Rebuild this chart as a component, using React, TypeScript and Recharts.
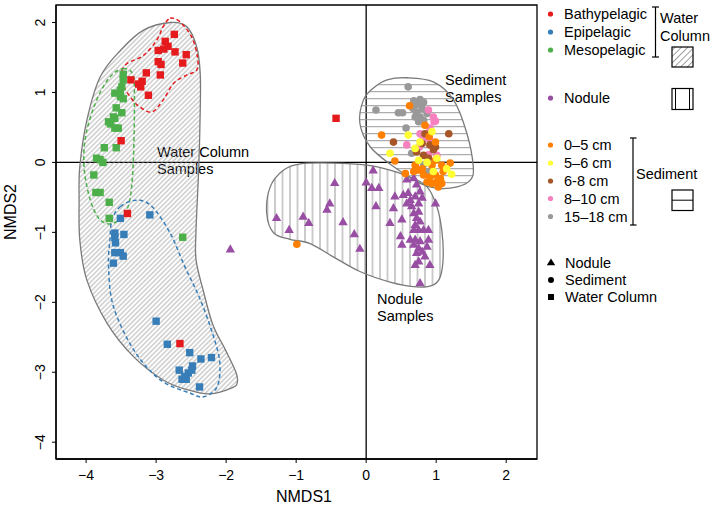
import React from 'react';
import { ScatterChart, Scatter, XAxis, YAxis, ReferenceLine, ReferenceArea, Customized } from 'recharts';

type P = { x: number; y: number };

// ---------- colours ----------
const COLORS = {
  bathy: '#E41A1C',
  epi: '#377EB8',
  meso: '#4DAF4A',
  nodule: '#984EA3',
  s05: '#FF7F00',
  s56: '#FFFF33',
  s68: '#A65628',
  s810: '#F781BF',
  s1518: '#999999',
};

// ---------- axes ----------
const X_DOMAIN: [number, number] = [-4.43, 2.44];
const Y_DOMAIN: [number, number] = [-4.24, 2.25];
const xTicks = [-4, -3, -2, -1, 0, 1, 2];
const yTicks = [-4, -3, -2, -1, 0, 1, 2];

// ---------- water column samples (squares) ----------
const bathypelagic: P[] = [
  { x: -2.74, y: 1.83 }, { x: -2.87, y: 1.73 }, { x: -2.83, y: 1.66 }, { x: -2.89, y: 1.62 },
  { x: -2.97, y: 1.6 }, { x: -2.73, y: 1.58 }, { x: -2.57, y: 1.54 }, { x: -2.62, y: 1.42 },
  { x: -2.97, y: 1.44 }, { x: -2.93, y: 1.4 }, { x: -3.14, y: 1.28 }, { x: -2.94, y: 1.25 },
  { x: -3.36, y: 1.18 }, { x: -3.2, y: 1.16 }, { x: -3.25, y: 1.12 }, { x: -3.22, y: 1.08 },
  { x: -3.11, y: 0.96 }, { x: -3.5, y: 0.31 }, { x: -3.41, y: -0.73 }, { x: -2.66, y: -2.59 },
  { x: -0.43, y: 0.63 },
];

const epipelagic: P[] = [
  { x: -3.51, y: -0.8 }, { x: -3.09, y: -0.75 }, { x: -3.59, y: -1.01 }, { x: -3.46, y: -1.03 },
  { x: -3.59, y: -1.07 }, { x: -3.58, y: -1.15 }, { x: -3.59, y: -1.29 }, { x: -3.51, y: -1.29 },
  { x: -3.47, y: -1.34 }, { x: -3.61, y: -1.44 }, { x: -3.0, y: -2.27 }, { x: -2.84, y: -2.6 },
  { x: -2.52, y: -2.72 }, { x: -2.36, y: -2.81 }, { x: -2.21, y: -2.79 }, { x: -2.48, y: -2.91 },
  { x: -2.49, y: -2.97 }, { x: -2.54, y: -3.01 }, { x: -2.59, y: -3.06 }, { x: -2.63, y: -3.1 },
  { x: -2.57, y: -3.1 }, { x: -2.67, y: -2.97 }, { x: -2.38, y: -3.21 },
];

const mesopelagic: P[] = [
  { x: -3.47, y: 1.26 }, { x: -3.47, y: 1.18 }, { x: -3.51, y: 1.03 }, { x: -3.49, y: 1.08 },
  { x: -3.59, y: 0.99 }, { x: -3.51, y: 0.94 }, { x: -3.47, y: 0.91 }, { x: -3.57, y: 0.78 },
  { x: -3.49, y: 0.71 }, { x: -3.61, y: 0.65 }, { x: -3.59, y: 0.63 }, { x: -3.68, y: 0.58 },
  { x: -3.65, y: 0.55 }, { x: -3.59, y: 0.49 }, { x: -3.54, y: 0.49 }, { x: -3.74, y: 0.21 },
  { x: -3.57, y: 0.21 }, { x: -3.85, y: 0.06 }, { x: -3.8, y: 0.04 }, { x: -3.76, y: 0.0 },
  { x: -3.89, y: -0.18 }, { x: -3.86, y: -0.43 }, { x: -3.8, y: -0.43 }, { x: -3.67, y: -0.57 },
  { x: -3.67, y: -0.8 }, { x: -2.62, y: -1.07 },
];

// ---------- nodule samples (triangles) ----------
const nodule: P[] = [
  { x: -1.94, y: -1.25 }, { x: -1.28, y: -0.8 }, { x: -1.1, y: -0.97 }, { x: -0.9, y: -0.78 },
  { x: -0.82, y: -0.87 }, { x: -0.52, y: -0.59 }, { x: -0.56, y: -0.68 }, { x: -0.45, y: -0.3 },
  { x: -0.33, y: -0.86 }, { x: -0.17, y: -1.03 }, { x: -0.09, y: -1.24 }, { x: 0.0, y: -0.29 },
  { x: 0.1, y: -0.12 }, { x: 0.08, y: -0.37 }, { x: 0.18, y: -0.37 }, { x: 0.14, y: -0.63 },
  { x: 0.58, y: -0.25 }, { x: 0.68, y: -0.23 }, { x: 0.72, y: -0.32 }, { x: 0.41, y: -0.49 },
  { x: 0.53, y: -0.47 }, { x: 0.6, y: -0.44 }, { x: 0.63, y: -0.54 }, { x: 0.7, y: -0.49 },
  { x: 0.77, y: -0.42 }, { x: 0.8, y: -0.51 }, { x: 0.58, y: -0.59 }, { x: 0.65, y: -0.63 },
  { x: 0.75, y: -0.59 }, { x: 0.39, y: -0.66 }, { x: 0.99, y: -0.59 }, { x: 0.68, y: -0.73 },
  { x: 0.75, y: -0.71 }, { x: 0.72, y: -0.8 }, { x: 0.51, y: -0.82 }, { x: 0.34, y: -0.87 },
  { x: 0.7, y: -0.9 }, { x: 0.77, y: -0.85 }, { x: 0.68, y: -0.97 }, { x: 0.75, y: -0.97 },
  { x: 0.82, y: -0.97 }, { x: 0.89, y: -0.97 }, { x: 0.49, y: -1.06 }, { x: 0.51, y: -1.18 },
  { x: 0.63, y: -1.11 }, { x: 0.7, y: -1.11 }, { x: 0.77, y: -1.13 }, { x: 0.68, y: -1.18 },
  { x: 0.75, y: -1.23 }, { x: 0.72, y: -1.3 }, { x: 0.8, y: -1.28 }, { x: 0.87, y: -1.21 },
  { x: 0.89, y: -1.11 }, { x: 0.75, y: -1.42 }, { x: 0.7, y: -1.47 }, { x: 0.91, y: -1.47 },
  { x: 0.77, y: -1.73 }, { x: 0.84, y: -1.35 },
];

// ---------- sediment samples (circles) ----------
const sed1518: P[] = [
  { x: 0.6, y: 1.08 }, { x: 0.14, y: 0.75 }, { x: 0.46, y: 0.71 }, { x: 0.52, y: 0.71 },
  { x: 0.68, y: 0.88 }, { x: 0.73, y: 0.83 }, { x: 0.77, y: 0.9 }, { x: 0.82, y: 0.86 },
  { x: 0.67, y: 0.77 }, { x: 0.72, y: 0.72 }, { x: 0.8, y: 0.77 }, { x: 0.7, y: 0.65 },
  { x: 0.77, y: 0.65 }, { x: 0.82, y: 0.6 }, { x: 0.75, y: 0.58 }, { x: 0.87, y: 0.7 },
  { x: 0.57, y: 0.49 }, { x: 0.65, y: 0.13 }, { x: 0.82, y: -0.03 }, { x: 0.89, y: -0.13 },
];

const sed810: P[] = [
  { x: 0.89, y: 0.75 }, { x: 0.96, y: 0.65 }, { x: 0.99, y: 0.59 }, { x: 0.97, y: 0.58 },
  { x: 0.91, y: 0.49 }, { x: 0.77, y: 0.41 }, { x: 0.82, y: 0.35 }, { x: 0.58, y: 0.25 },
  { x: 0.76, y: 0.22 }, { x: 0.89, y: 0.11 }, { x: 1.01, y: 0.1 }, { x: 0.91, y: 0.32 },
];

const sed68: P[] = [
  { x: 0.39, y: 0.29 }, { x: 1.18, y: 0.41 }, { x: 0.91, y: 0.25 }, { x: 0.96, y: 0.18 },
  { x: 0.82, y: 0.1 }, { x: 0.89, y: 0.06 }, { x: 0.8, y: 0.27 }, { x: 0.99, y: 0.22 },
  { x: 0.72, y: 0.15 }, { x: 0.84, y: 0.41 },
];

const sed05: P[] = [
  { x: 0.22, y: 0.39 }, { x: 0.62, y: 0.81 }, { x: 0.41, y: 0.02 }, { x: 0.56, y: -0.16 },
  { x: 1.2, y: -0.01 }, { x: 0.84, y: 0.53 }, { x: 0.9, y: 0.37 }, { x: 0.99, y: 0.29 },
  { x: 0.7, y: -0.04 }, { x: 0.75, y: -0.11 }, { x: 0.68, y: -0.13 }, { x: 0.82, y: -0.18 },
  { x: 0.91, y: -0.21 }, { x: 0.99, y: -0.18 }, { x: 1.06, y: -0.23 }, { x: 1.01, y: -0.28 },
  { x: 1.08, y: -0.3 }, { x: 0.94, y: -0.3 }, { x: 0.87, y: -0.28 }, { x: 1.03, y: -0.35 },
  { x: 1.1, y: -0.13 }, { x: 1.08, y: -0.04 }, { x: 0.94, y: -0.04 }, { x: 0.8, y: -0.09 },
  { x: 0.99, y: 0.03 }, { x: -0.99, y: -1.17 },
];

const sed56: P[] = [
  { x: 0.6, y: 0.39 }, { x: 0.34, y: 0.13 }, { x: 0.94, y: 0.44 }, { x: 0.77, y: 0.29 },
  { x: 1.01, y: 0.06 }, { x: 1.15, y: -0.09 }, { x: 1.22, y: -0.17 }, { x: 0.87, y: 0.0 },
  { x: 0.75, y: 0.03 }, { x: 0.96, y: -0.13 }, { x: 0.7, y: 0.2 },
];

// ---------- group outlines (data units) ----------
const waterColumnHull: P[] = [
  { x: -2.8, y: 2.0 }, { x: -2.56, y: 1.94 }, { x: -2.42, y: 1.65 }, { x: -2.37, y: 1.27 },
  { x: -2.37, y: 0.75 }, { x: -2.39, y: -0.05 }, { x: -2.43, y: -0.97 }, { x: -2.43, y: -1.39 },
  { x: -2.33, y: -1.82 }, { x: -2.19, y: -2.32 }, { x: -2.01, y: -2.68 }, { x: -1.86, y: -3.0 },
  { x: -1.84, y: -3.14 }, { x: -1.91, y: -3.22 }, { x: -2.23, y: -3.31 }, { x: -2.56, y: -3.25 },
  { x: -2.9, y: -3.11 }, { x: -3.32, y: -2.78 }, { x: -3.7, y: -2.3 }, { x: -3.99, y: -1.68 },
  { x: -4.09, y: -1.11 }, { x: -4.1, y: -0.54 }, { x: -4.09, y: -0.06 }, { x: -3.99, y: 0.6 },
  { x: -3.8, y: 1.22 }, { x: -3.51, y: 1.6 }, { x: -3.18, y: 1.89 },
];

const bathyOutline: P[] = [
  { x: -2.8, y: 2.06 }, { x: -2.66, y: 2.01 }, { x: -2.49, y: 1.79 }, { x: -2.41, y: 1.51 },
  { x: -2.42, y: 1.32 }, { x: -2.56, y: 1.25 }, { x: -2.75, y: 1.13 }, { x: -2.9, y: 0.89 },
  { x: -3.06, y: 0.72 }, { x: -3.23, y: 0.79 }, { x: -3.35, y: 0.91 }, { x: -3.49, y: 1.13 },
  { x: -3.5, y: 1.27 }, { x: -3.42, y: 1.41 }, { x: -3.18, y: 1.53 }, { x: -2.99, y: 1.75 },
  { x: -2.9, y: 1.94 },
];

const mesoOutline: P[] = [
  { x: -3.47, y: 1.34 }, { x: -3.33, y: 1.25 }, { x: -3.31, y: 0.89 }, { x: -3.32, y: 0.18 },
  { x: -3.35, y: -0.35 }, { x: -3.42, y: -0.68 }, { x: -3.61, y: -0.87 }, { x: -3.8, y: -0.82 },
  { x: -3.94, y: -0.54 }, { x: -4.03, y: -0.06 }, { x: -4.0, y: 0.41 }, { x: -3.85, y: 0.89 },
  { x: -3.66, y: 1.22 },
];

const epiOutline: P[] = [
  { x: -3.51, y: -0.63 }, { x: -3.28, y: -0.54 }, { x: -3.06, y: -0.63 }, { x: -2.8, y: -1.01 },
  { x: -2.59, y: -1.49 }, { x: -2.37, y: -1.96 }, { x: -2.18, y: -2.49 }, { x: -2.09, y: -2.87 },
  { x: -2.13, y: -3.21 }, { x: -2.32, y: -3.35 }, { x: -2.51, y: -3.3 }, { x: -2.94, y: -3.11 },
  { x: -3.32, y: -2.68 }, { x: -3.61, y: -2.06 }, { x: -3.68, y: -1.49 }, { x: -3.66, y: -1.11 },
  { x: -3.63, y: -0.82 },
];

const sedimentHull: P[] = [
  { x: 0.58, y: 1.21 }, { x: 0.96, y: 1.15 }, { x: 1.25, y: 0.89 }, { x: 1.44, y: 0.41 },
  { x: 1.53, y: -0.06 }, { x: 1.49, y: -0.25 }, { x: 1.3, y: -0.35 }, { x: 1.01, y: -0.37 },
  { x: 0.77, y: -0.3 }, { x: 0.39, y: -0.06 }, { x: 0.06, y: 0.22 }, { x: -0.09, y: 0.56 },
  { x: -0.04, y: 0.89 }, { x: 0.1, y: 1.06 }, { x: 0.3, y: 1.18 },
];

const noduleHull: P[] = [
  { x: -1.18, y: -0.11 }, { x: -0.94, y: -0.02 }, { x: -0.47, y: -0.01 }, { x: 0.01, y: -0.04 },
  { x: 0.34, y: -0.11 }, { x: 0.63, y: -0.21 }, { x: 0.87, y: -0.35 }, { x: 1.01, y: -0.63 },
  { x: 1.08, y: -0.97 }, { x: 1.1, y: -1.35 }, { x: 1.06, y: -1.63 }, { x: 0.96, y: -1.75 },
  { x: 0.72, y: -1.78 }, { x: 0.34, y: -1.71 }, { x: -0.09, y: -1.56 }, { x: -0.47, y: -1.35 },
  { x: -0.8, y: -1.16 }, { x: -1.09, y: -1.1 }, { x: -1.32, y: -1.01 }, { x: -1.42, y: -0.73 },
  { x: -1.37, y: -0.35 },
];

// ---------- legend text ----------
const waterLegend = [
  { label: 'Bathypelagic', color: COLORS.bathy },
  { label: 'Epipelagic', color: COLORS.epi },
  { label: 'Mesopelagic', color: COLORS.meso },
];
const noduleLegend = [{ label: 'Nodule', color: COLORS.nodule }];
const sedimentLegend = [
  { label: '0\u20135 cm', color: COLORS.s05 },
  { label: '5\u20136 cm', color: COLORS.s56 },
  { label: '6-8 cm', color: COLORS.s68 },
  { label: '8\u201310 cm', color: COLORS.s810 },
  { label: '15\u201318 cm', color: COLORS.s1518 },
];
const shapeLegend = ['Nodule', 'Sediment', 'Water Column'];

const FONT = '"Liberation Sans", Arial, Helvetica, sans-serif';

// ---------- helpers ----------
function closedSpline(pts: { x: number; y: number }[]) {
  const n = pts.length;
  let d = `M${pts[0].x},${pts[0].y}`;
  for (let i = 0; i < n; i++) {
    const p0 = pts[(i - 1 + n) % n];
    const p1 = pts[i];
    const p2 = pts[(i + 1) % n];
    const p3 = pts[(i + 2) % n];
    const c1x = p1.x + (p2.x - p0.x) / 6;
    const c1y = p1.y + (p2.y - p0.y) / 6;
    const c2x = p2.x - (p3.x - p1.x) / 6;
    const c2y = p2.y - (p3.y - p1.y) / 6;
    d += `C${c1x},${c1y} ${c2x},${c2y} ${p2.x},${p2.y}`;
  }
  return d + 'Z';
}

function HatchDefs() {
  return (
    <defs>
      <pattern id="hatchDiag" patternUnits="userSpaceOnUse" width={3.4} height={3.4} patternTransform="rotate(45)">
        <line x1={1.7} y1={0} x2={1.7} y2={3.4} stroke="#9a9a9a" strokeWidth={0.75} />
      </pattern>
      <pattern id="hatchVert" patternUnits="userSpaceOnUse" x={286.25} y={0} width={7.5} height={10}>
        <line x1={3.75} y1={0} x2={3.75} y2={10} stroke="#999" strokeWidth={1} />
      </pattern>
      <pattern id="hatchHoriz" patternUnits="userSpaceOnUse" x={0} y={81.2} width={10} height={7}>
        <line x1={0} y1={3.5} x2={10} y2={3.5} stroke="#999" strokeWidth={1} />
      </pattern>
      <pattern id="legendDiag" patternUnits="userSpaceOnUse" width={4.5} height={4.5} patternTransform="rotate(45)">
        <line x1={2.25} y1={0} x2={2.25} y2={4.5} stroke="#8a8a8a" strokeWidth={0.8} />
      </pattern>
    </defs>
  );
}

function HullLine(props: any) {
  const { points, hullFill, hullStroke, hullWidth, hullDash, withDefs } = props;
  if (!points || points.length < 3) return null;
  return (
    <g>
      {withDefs ? <HatchDefs /> : null}
      <path
        d={closedSpline(points)}
        fill={hullFill}
        stroke={hullStroke}
        strokeWidth={hullWidth}
        strokeDasharray={hullDash}
      />
    </g>
  );
}

const EmptyShape = () => <g />;

const makeSquare = (color: string) => (p: any) => (
  <rect x={p.cx - 3.7} y={p.cy - 3.7} width={7.4} height={7.4} fill={color} />
);
const makeCircle = (color: string) => (p: any) => <circle cx={p.cx} cy={p.cy} r={3.8} fill={color} />;
const makeTriangle = (color: string) => (p: any) => {
  const w = 9.4;
  const h = 8.2;
  const pts = `${p.cx},${p.cy - (2 * h) / 3} ${p.cx - w / 2},${p.cy + h / 3} ${p.cx + w / 2},${p.cy + h / 3}`;
  return <polygon points={pts} fill={color} />;
};

const fmt = (v: number) => (v < 0 ? `\u2212${Math.abs(v)}` : `${v}`);

const XTick = (props: any) => {
  const { x, y, payload } = props;
  return (
    <text x={x} y={y + 15} textAnchor="middle" fontSize={14} fill="#000" fontFamily={FONT}>
      {fmt(payload.value)}
    </text>
  );
};

const YTick = (props: any) => {
  const { x, y, payload } = props;
  const tx = x - 5;
  return (
    <text x={tx} y={y} transform={`rotate(-90 ${tx} ${y})`} textAnchor="middle" fontSize={14} fill="#000" fontFamily={FONT}>
      {fmt(payload.value)}
    </text>
  );
};

function Overlay() {
  const t = { fontFamily: FONT, fontSize: 14.5, fill: '#000' } as const;
  const dotX = 550.5;
  const textX = 564;
  const wcY = [14, 32, 50];
  const nodY = [98];
  const sedY = [145, 163, 181, 198.5, 216.5];
  const shapeY = [262.5, 280, 297];
  return (
    <g>
      {/* plot annotations */}
      <text x={157} y={157} {...t}>Water Column</text>
      <text x={157} y={174} {...t}>Samples</text>
      <text x={445} y={85} {...t}>Sediment</text>
      <text x={445} y={101.5} {...t}>Samples</text>
      <text x={377} y={304} {...t}>Nodule</text>
      <text x={377} y={321} {...t}>Samples</text>

      {/* axis titles */}
      <text x={304} y={502} textAnchor="middle" fontFamily={FONT} fontSize={16} fill="#000">NMDS1</text>
      <text x={16} y={212} transform="rotate(-90 16 212)" textAnchor="middle" fontFamily={FONT} fontSize={16} fill="#000">NMDS2</text>

      {/* legend: colours */}
      {waterLegend.map((d, i) => (
        <g key={d.label}>
          <circle cx={dotX} cy={wcY[i]} r={2.6} fill={d.color} />
          <text x={textX} y={wcY[i] + 5.2} {...t}>{d.label}</text>
        </g>
      ))}
      {noduleLegend.map((d, i) => (
        <g key={d.label}>
          <circle cx={dotX} cy={nodY[i]} r={2.6} fill={d.color} />
          <text x={textX} y={nodY[i] + 5.2} {...t}>{d.label}</text>
        </g>
      ))}
      {sedimentLegend.map((d, i) => (
        <g key={d.label}>
          <circle cx={dotX} cy={sedY[i]} r={2.6} fill={d.color} />
          <text x={textX} y={sedY[i] + 5.2} {...t}>{d.label}</text>
        </g>
      ))}

      {/* water column bracket */}
      <line x1={655.5} y1={7} x2={655.5} y2={57} stroke="#000" strokeWidth={1.2} />
      <line x1={652} y1={7} x2={659} y2={7} stroke="#000" strokeWidth={1.2} />
      <line x1={652} y1={57} x2={659} y2={57} stroke="#000" strokeWidth={1.2} />
      <text x={660} y={23.2} {...t}>Water</text>
      <text x={660} y={41.2} {...t}>Column</text>
      <rect x={672} y={47} width={21} height={20} fill="url(#legendDiag)" stroke="#000" strokeWidth={1.2} />

      {/* nodule box */}
      <rect x={672} y={88.5} width={21} height={21} fill="#fff" stroke="#000" strokeWidth={1.2} />
      <line x1={675.5} y1={88.5} x2={675.5} y2={109.5} stroke="#000" strokeWidth={1} />
      <line x1={689.5} y1={88.5} x2={689.5} y2={109.5} stroke="#000" strokeWidth={1} />

      {/* sediment bracket */}
      <line x1={633} y1={138} x2={633} y2={225} stroke="#000" strokeWidth={1.2} />
      <line x1={630} y1={138} x2={636.5} y2={138} stroke="#000" strokeWidth={1.2} />
      <line x1={630} y1={225} x2={636.5} y2={225} stroke="#000" strokeWidth={1.2} />
      <text x={636} y={178.7} {...t}>Sediment</text>
      <rect x={672} y={190} width={21} height={20.5} fill="#fff" stroke="#000" strokeWidth={1.2} />
      <line x1={672} y1={200.2} x2={693} y2={200.2} stroke="#000" strokeWidth={1} />

      {/* legend: shapes */}
      <polygon points={`551,${shapeY[0] - 4} 546.8,${shapeY[0] + 2.8} 555.2,${shapeY[0] + 2.8}`} fill="#000" />
      <text x={565} y={shapeY[0] + 5.2} {...t}>{shapeLegend[0]}</text>
      <circle cx={551} cy={shapeY[1]} r={3} fill="#000" />
      <text x={565} y={shapeY[1] + 5.2} {...t}>{shapeLegend[1]}</text>
      <rect x={548} y={shapeY[2] - 3} width={6} height={6} fill="#000" />
      <text x={565} y={shapeY[2] + 5.2} {...t}>{shapeLegend[2]}</text>
    </g>
  );
}

export default function App() {
  return (
    <div style={{ position: 'absolute', left: 0, top: 0, width: 714, height: 506, background: '#fff' }}>
      <ScatterChart width={714} height={506} margin={{ top: 5, right: 177, bottom: 0, left: 0 }}>
        <XAxis
          type="number"
          dataKey="x"
          domain={X_DOMAIN}
          ticks={xTicks}
          interval={0}
          allowDataOverflow
          height={47}
          tickSize={4}
          tick={<XTick />}
          tickLine={{ stroke: '#000' }}
          axisLine={{ stroke: '#000', strokeWidth: 1.3 }}
        />
        <YAxis
          type="number"
          dataKey="y"
          domain={Y_DOMAIN}
          ticks={yTicks}
          interval={0}
          allowDataOverflow
          width={56}
          tickSize={4}
          tick={<YTick />}
          tickLine={{ stroke: '#000' }}
          axisLine={{ stroke: '#000', strokeWidth: 1.3 }}
        />

        {/* group outlines */}
        <Scatter
          data={waterColumnHull}
          shape={EmptyShape}
          isAnimationActive={false}
          line={<HullLine withDefs hullFill="url(#hatchDiag)" hullStroke="#7a7a7a" hullWidth={1.3} />}
        />
        <Scatter
          data={noduleHull}
          shape={EmptyShape}
          isAnimationActive={false}
          line={<HullLine withDefs hullFill="url(#hatchVert)" hullStroke="#7a7a7a" hullWidth={1.3} />}
        />
        <Scatter
          data={sedimentHull}
          shape={EmptyShape}
          isAnimationActive={false}
          line={<HullLine withDefs hullFill="url(#hatchHoriz)" hullStroke="#7a7a7a" hullWidth={1.3} />}
        />
        <Scatter
          data={bathyOutline}
          shape={EmptyShape}
          isAnimationActive={false}
          line={<HullLine hullFill="none" hullStroke={COLORS.bathy} hullWidth={1.5} hullDash="4 2.8" />}
        />
        <Scatter
          data={mesoOutline}
          shape={EmptyShape}
          isAnimationActive={false}
          line={<HullLine hullFill="none" hullStroke={COLORS.meso} hullWidth={1.5} hullDash="4 2.8" />}
        />
        <Scatter
          data={epiOutline}
          shape={EmptyShape}
          isAnimationActive={false}
          line={<HullLine hullFill="none" hullStroke={COLORS.epi} hullWidth={1.5} hullDash="4 2.8" />}
        />

        <ReferenceLine x={0} stroke="#000" strokeWidth={1.3} />
        <ReferenceLine y={0} stroke="#000" strokeWidth={1.3} />
        <ReferenceArea x1={X_DOMAIN[0]} x2={X_DOMAIN[1]} y1={Y_DOMAIN[0]} y2={Y_DOMAIN[1]} fill="none" fillOpacity={0} stroke="#000" strokeWidth={1.3} />

        {/* samples */}
        <Scatter data={epipelagic} shape={makeSquare(COLORS.epi)} isAnimationActive={false} />
        <Scatter data={mesopelagic} shape={makeSquare(COLORS.meso)} isAnimationActive={false} />
        <Scatter data={bathypelagic} shape={makeSquare(COLORS.bathy)} isAnimationActive={false} />
        <Scatter data={nodule} shape={makeTriangle(COLORS.nodule)} isAnimationActive={false} />
        <Scatter data={sed1518} shape={makeCircle(COLORS.s1518)} isAnimationActive={false} />
        <Scatter data={sed810} shape={makeCircle(COLORS.s810)} isAnimationActive={false} />
        <Scatter data={sed68} shape={makeCircle(COLORS.s68)} isAnimationActive={false} />
        <Scatter data={sed05} shape={makeCircle(COLORS.s05)} isAnimationActive={false} />
        <Scatter data={sed56} shape={makeCircle(COLORS.s56)} isAnimationActive={false} />

        <Customized component={<Overlay />} />
      </ScatterChart>
    </div>
  );
}
